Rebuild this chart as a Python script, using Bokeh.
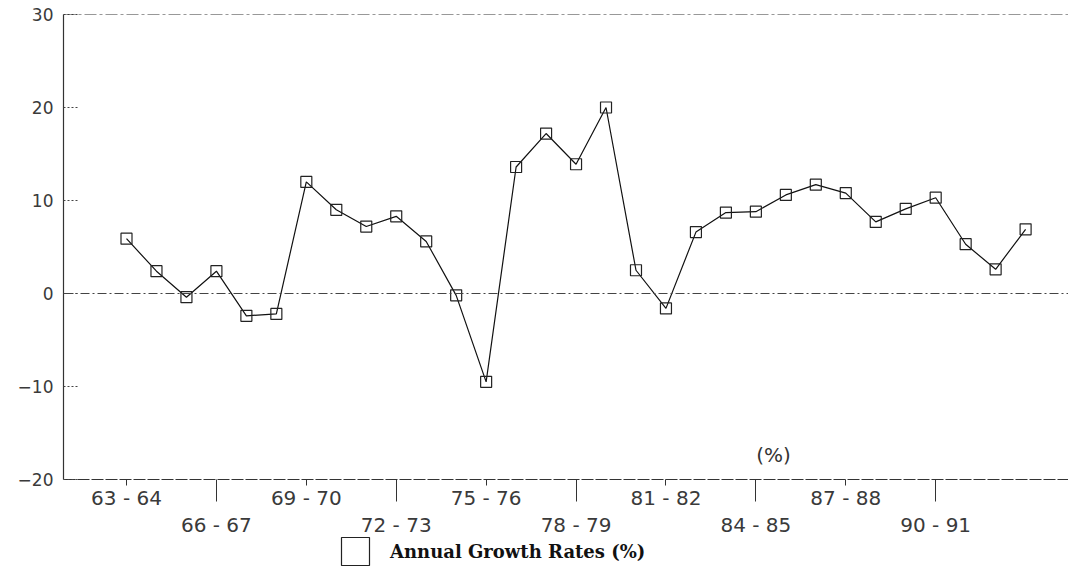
from bokeh.plotting import figure
from bokeh.models import (FixedTicker, LinearAxis, Span, Label, Legend, LegendItem,
                          ColumnDataSource, Range1d)
from bokeh.embed import file_html
from bokeh.resources import INLINE

# ---- data -------------------------------------------------------------
periods = ["63-64", "64-65", "65-66", "66-67", "67-68", "68-69", "69-70", "70-71",
           "71-72", "72-73", "73-74", "74-75", "75-76", "76-77", "77-78", "78-79",
           "79-80", "80-81", "81-82", "82-83", "83-84", "84-85", "85-86", "86-87",
           "87-88", "88-89", "89-90", "90-91", "91-92", "92-93", "93-94"]
growth = [5.9, 2.4, -0.4, 2.4, -2.4, -2.2, 12.0, 9.0, 7.2, 8.3, 5.6, -0.2,
          -9.5, 13.6, 17.2, 13.9, 20.0, 2.5, -1.6, 6.6, 8.7, 8.8, 10.6, 11.7,
          10.8, 7.7, 9.1, 10.3, 5.3, 2.6, 6.9]
y_ticks = [-20, -10, 0, 10, 20, 30]
top_row = ["63-64", "69-70", "75-76", "81-82", "87-88"]
bottom_row = ["66-67", "72-73", "78-79", "84-85", "90-91"]
legend_text = "Annual Growth Rates (%)"
unit_text = "(%)"

pos = list(range(len(periods)))
top_pos = [periods.index(s) for s in top_row]
bot_pos = [periods.index(s) for s in bottom_row]

def fmt(s):
    return s.replace("-", " - ")

# ---- layout (pixels) --------------------------------------------------
W, H = 1068, 568
LEFT, TOP = 63, 14          # frame left / top (value 30)
AXIS_Y = 479                # pixel row of the x axis (value -20)
STEP = 29.97                # pixels per period
FIRST_X = 126               # pixel column of the first period
ppu = (AXIS_Y - TOP) / (y_ticks[-1] - y_ticks[0])
y_min = y_ticks[0] - (H - AXIS_Y) / ppu
x_min = -(FIRST_X - LEFT) / STEP
x_max = x_min + (W - LEFT) / STEP

# ---- figure -----------------------------------------------------------
p = figure(width=W, height=H, output_backend="svg", toolbar_location=None,
           x_range=Range1d(x_min, x_max), y_range=Range1d(y_min, y_ticks[-1]),
           min_border_left=LEFT, min_border_right=0, min_border_top=TOP,
           min_border_bottom=0, x_axis_type=None, y_axis_type=None)
p.outline_line_color = None
p.background_fill_color = "white"
p.border_fill_color = "white"

label_font = "DejaVu Sans"
label_color = "#3a3a3a"

yax = LinearAxis(ticker=FixedTicker(ticks=y_ticks), bounds=(y_ticks[0], y_ticks[-1]),
                 major_tick_in=15, major_tick_out=0,
                 major_tick_line_color="#444", major_tick_line_dash="2 2",
                 axis_line_color="#333", axis_line_width=1.2,
                 major_label_standoff=10,
                 major_label_text_font=label_font,
                 major_label_text_font_size="17px",
                 major_label_text_color=label_color)
p.add_layout(yax, "left")

xax1 = LinearAxis(ticker=FixedTicker(ticks=top_pos),
                  fixed_location=y_ticks[0],
                  major_label_overrides={i: fmt(periods[i]) for i in top_pos},
                  major_tick_in=0, major_tick_out=6,
                  major_tick_line_color="#333", minor_tick_line_color=None,
                  axis_line_color="#333", axis_line_width=1.2, axis_line_dash="12 2",
                  major_label_standoff=0,
                  major_label_text_font=label_font,
                  major_label_text_font_size="20px",
                  major_label_text_color=label_color)
p.add_layout(xax1, "below")

xax2 = LinearAxis(ticker=FixedTicker(ticks=bot_pos),
                  fixed_location=y_ticks[0] - 22 / ppu,
                  major_label_overrides={i: fmt(periods[i]) for i in bot_pos},
                  major_tick_in=22, major_tick_out=0,
                  major_tick_line_color="#333", minor_tick_line_color=None,
                  axis_line_color=None,
                  major_label_standoff=11,
                  major_label_text_font=label_font,
                  major_label_text_font_size="20px",
                  major_label_text_color=label_color)
p.add_layout(xax2, "below")

p.add_layout(Span(location=y_ticks[-1], dimension="width", line_color="#333",
                  line_width=1.2, line_dash="12 3 3 3"))
p.add_layout(Span(location=0, dimension="width", line_color="#444",
                  line_width=1, line_dash="9 3 2 3"))

src = ColumnDataSource(dict(x=pos, y=growth))
p.line("x", "y", source=src, line_color="#111", line_width=1.2)
pts = p.scatter("x", "y", source=src, marker="square", size=11, fill_color=None,
                line_color="#222", line_width=1.2)

p.add_layout(Label(x=x_min + (773 - LEFT) / STEP, y=y_ticks[-1] - (454 - TOP) / ppu,
                   text=unit_text, text_align="center",
                   text_baseline="middle", text_font=label_font,
                   text_font_size="20px", text_color="#333"))

legend = Legend(items=[LegendItem(label=legend_text, renderers=[pts])],
                location=(257, -18), glyph_width=70, glyph_height=70,
                padding=0, margin=0, spacing=0, label_standoff=0,
                border_line_color=None, background_fill_alpha=0,
                label_text_font="DejaVu Serif", label_text_font_style="bold",
                label_text_font_size="18px", label_text_color="#111")
p.add_layout(legend, "center")

open("out.html", "w").write(file_html(p, INLINE))
